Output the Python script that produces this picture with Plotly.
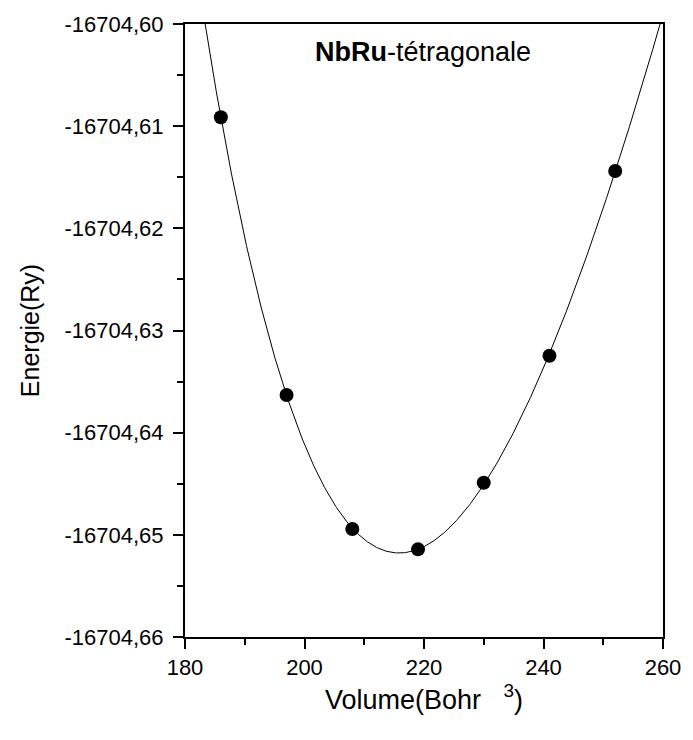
import numpy as np
import plotly.graph_objects as go

# Data
volume = [186, 197, 208, 219, 230, 241, 252]
energy = [-16704.60913, -16704.63631, -16704.64943, -16704.65142,
          -16704.64490, -16704.63247, -16704.61439]

x_tickvals = [180, 200, 220, 240, 260]
x_ticktext = ["180", "200", "220", "240", "260"]
y_tickvals = [-16704.60, -16704.61, -16704.62, -16704.63, -16704.64, -16704.65, -16704.66]
y_ticktext = ["-16704,60", "-16704,61", "-16704,62", "-16704,63",
              "-16704,64", "-16704,65", "-16704,66"]

# Birch-Murnaghan style fit (cubic in V^(-2/3)) to the data points
v = np.array(volume, dtype=float)
e = np.array(energy, dtype=float)
e0 = e.min()
coef = np.polyfit(v ** (-2.0 / 3.0), e - e0, 3)
vfit = np.linspace(180, 260, 600)
efit = np.polyval(coef, vfit ** (-2.0 / 3.0)) + e0

fig = go.Figure()
fig.add_trace(go.Scatter(x=vfit, y=efit, mode="lines",
                         line=dict(color="black", width=1), showlegend=False,
                         hoverinfo="skip"))
fig.add_trace(go.Scatter(x=volume, y=energy, mode="markers",
                         marker=dict(color="black", size=14, symbol="circle"),
                         showlegend=False))

font = "Liberation Sans, Arial, sans-serif"
axis_common = dict(
    showline=True, linecolor="black", linewidth=2, mirror=True,
    ticks="outside", ticklen=10, tickwidth=2, tickcolor="black",
    showgrid=False, zeroline=False,
    tickfont=dict(family=font, size=22, color="black"),
)

fig.update_layout(
    width=693, height=740,
    margin=dict(l=185, r=24, t=24, b=103),
    paper_bgcolor="white", plot_bgcolor="white",
    font=dict(family=font, color="black"),
    xaxis=dict(range=[180, 260], tickmode="array", tickvals=x_tickvals, ticktext=x_ticktext,
               minor=dict(dtick=10, tick0=180, ticks="outside", ticklen=6, tickwidth=2, tickcolor="black"),
               title=dict(text="Volume(Bohr\u00a0\u00a0\u00a0<sup>3</sup>)",
                          font=dict(family=font, size=27, color="black"),
                          standoff=0),
               **axis_common),
    yaxis=dict(range=[-16704.66, -16704.60], tickmode="array", tickvals=y_tickvals, ticktext=y_ticktext,
               minor=dict(dtick=0.005, tick0=-16704.66, ticks="outside", ticklen=6, tickwidth=2, tickcolor="black"),
               title=dict(text="Energie(Ry)", font=dict(family=font, size=25, color="black"),
                          standoff=18),
               ticklabelstandoff=5,
               **axis_common),
    annotations=[dict(text="<b>NbRu</b>-tétragonale", x=0.497, y=0.955, xref="paper", yref="paper",
                      showarrow=False, xanchor="center", yanchor="middle",
                      font=dict(family=font, size=27, color="black"))],
)

fig.write_html("out.html")
